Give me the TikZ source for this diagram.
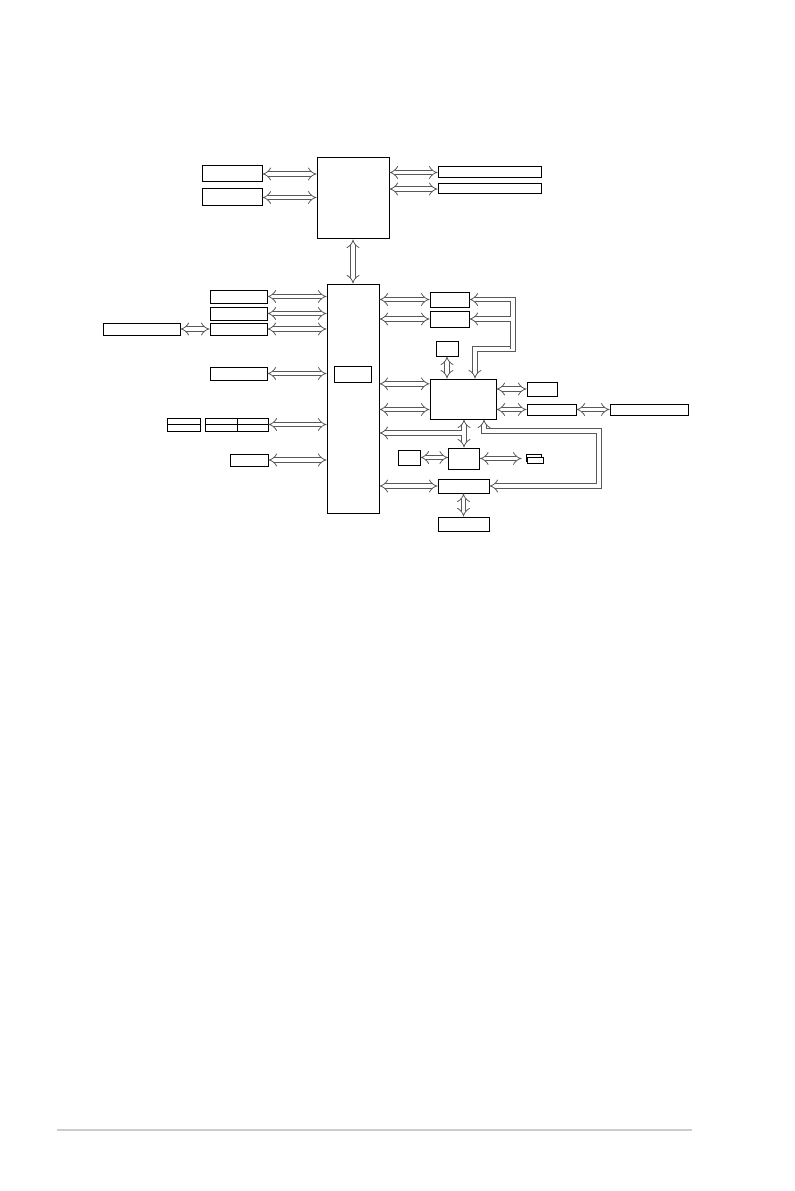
\documentclass[tikz,border=0pt]{standalone}
\usepackage{tikz}
\usetikzlibrary{arrows.meta,fit}

\begin{document}
\begin{tikzpicture}[x=0.75pt,y=-0.75pt,>={Implies[scale=1.5]},
  blk/.style={draw,line width=0.75pt,inner sep=0pt,fill=white},
  bus/.style={draw=black!65,double=white,double distance=2.8pt,line width=0.6pt},
  businner/.style={draw=white,line width=2.8pt}]

  \useasboundingbox (0,0) rectangle (794,1191);

  % -- CPU, MEMORY AND SLOTS -----------------------------------------
  \node[blk,fit={(317,158) (389,239)}] (cpu) {};
  \node[blk,fit={(202,166) (262,182)}] (dimmA) {};
  \node[blk,fit={(202,189) (262,206)}] (dimmB) {};
  \node[blk,fit={(438,167) (541,178)}] (pcieA) {};
  \node[blk,fit={(438,184) (541,194)}] (pcieB) {};

  \draw[bus,<->] (dimmA.east) -- (dimmA.east -| cpu.west);
  \draw[bus,<->] (dimmB.east) -- (dimmB.east -| cpu.west);
  \draw[bus,<->] (pcieA.west -| cpu.east) -- (pcieA.west);
  \draw[bus,<->] (pcieB.west -| cpu.east) -- (pcieB.west);

  % -- CHIPSET -------------------------------------------------------
  \node[blk,fit={(327,284) (379,513)}] (pch) {};
  \node[blk,fit={(334,366) (371,382)}] (pchin) {};
  \draw[bus,<->] (cpu.south) -- (cpu.south |- pch.north);

  % -- LEFT SIDE -----------------------------------------------------
  \node[blk,fit={(210,290) (267,303)}] (lftA) {};
  \node[blk,fit={(210,307) (267,320)}] (lftB) {};
  \node[blk,fit={(210,323) (267,335)}] (lftC) {};
  \node[blk,fit={(103,323) (180,335)}] (farC) {};
  \node[blk,fit={(210,367) (267,380)}] (lftD) {};
  \node[blk,fit={(167,418) (200,431)}] (cellA) {};
  \node[blk,fit={(205,418) (237,431)}] (cellB) {};
  \node[blk,fit={(237,418) (268,431)}] (cellC) {};
  \foreach \c in {cellA,cellB,cellC}
    \draw[line width=0.75pt] (\c.west) -- (\c.east); % split cells
  \node[blk,fit={(230,454) (268,466)}] (lftE) {};

  \foreach \b in {lftA,lftB,lftC,lftD,cellC,lftE}
    \draw[bus,<->] (\b.east) -- (\b.east -| pch.west);
  \draw[bus,<->] (farC.east) -- (lftC.west);

  % -- RIGHT SIDE ----------------------------------------------------
  \node[blk,fit={(430,292) (469,307)}] (slotA) {};
  \node[blk,fit={(430,311) (469,327)}] (slotB) {};
  \node[blk,fit={(436,341) (458,356)}] (tpm) {};
  \node[blk,fit={(430,379) (496,419)}] (sio) {};
  \node[blk,fit={(527,382) (557,396)}] (extA) {};
  \node[blk,fit={(527,404) (576,415)}] (extB) {};
  \node[blk,fit={(610,404) (688,415)}] (extC) {};
  \node[blk,fit={(398,450) (420,465)}] (romA) {};
  \node[blk,fit={(448.5,448) (479.5,469)}] (hub) {};
  \node[blk,fit={(526,454) (541,461)}] (hdrA) {};
  \node[blk,fit={(527,457) (543,463)}] (hdrB) {};
  \node[blk,fit={(438,479) (489,493)}] (ctrl) {};
  \node[blk,fit={(438,517) (489,531)}] (ctrlB) {};

  \coordinate (sioA) at ([yshift=-4pt]sio.north west);
  \coordinate (sioB) at ([yshift=7.5pt]sio.south west);
  \coordinate (hdrIn) at ([xshift=-3pt]hdrA.west);

  \foreach \b in {slotA,slotB,sioA,sioB,ctrl}
    \draw[bus,<->] (\b -| pch.east) -- (\b);
  \draw[bus,<->] (tpm.south) -- (tpm.south |- sio.north);
  \draw[bus,<->] (sio.east |- extA.west) -- (extA.west);
  \draw[bus,<->] (sio.east |- extB.west) -- (extB.west);
  \draw[bus,<->] (extB.east) -- (extC.west);
  \draw[bus,<->] (hub.north |- sio.south) -- (hub.north);
  \draw[bus,<->] (romA.east) -- (romA.east -| hub.west);
  \draw[bus,<->] (hub.east) -- (hdrIn |- hub.east);
  \draw[bus,<->] (ctrl.south) -- (ctrlB.north);

  % -- BENT BUSES ----------------------------------------------------
  \coordinate (ub1) at (475,349);
  \coordinate (ub2) at (513,349);
  \draw[bus,<->] (slotA.east) -| (ub2) -- (ub1) -- (ub1 |- sio.north);
  \draw[bus,->] (ub2) |- (slotB.east);
  \coordinate (tB) at (ub2 |- slotB.east);
  \draw[businner] ([yshift=5pt]tB) -- ([yshift=-5pt]tB);
  \draw[businner] (tB) -- ([xshift=-5pt]tB);

  \coordinate (rb1) at (599,431);
  \coordinate (rb2) at (484,431);
  \draw[bus,<->] (ctrl.east) -| (rb1) -- (rb2) -- (rb2 |- sio.south);

  \coordinate (j1) at (464,433);
  \draw[bus,->] (j1) -- (j1 -| pch.east);
  \draw[businner] (j1) -- ([xshift=-4pt]j1);
  \draw[businner] ([yshift=4pt]j1) -- ([yshift=-4pt]j1);

  % -- FOOTER RULE ---------------------------------------------------
  \draw[black!20,line width=1.2pt] (57,1130) -- (692,1130);

\end{tikzpicture}
\end{document}
